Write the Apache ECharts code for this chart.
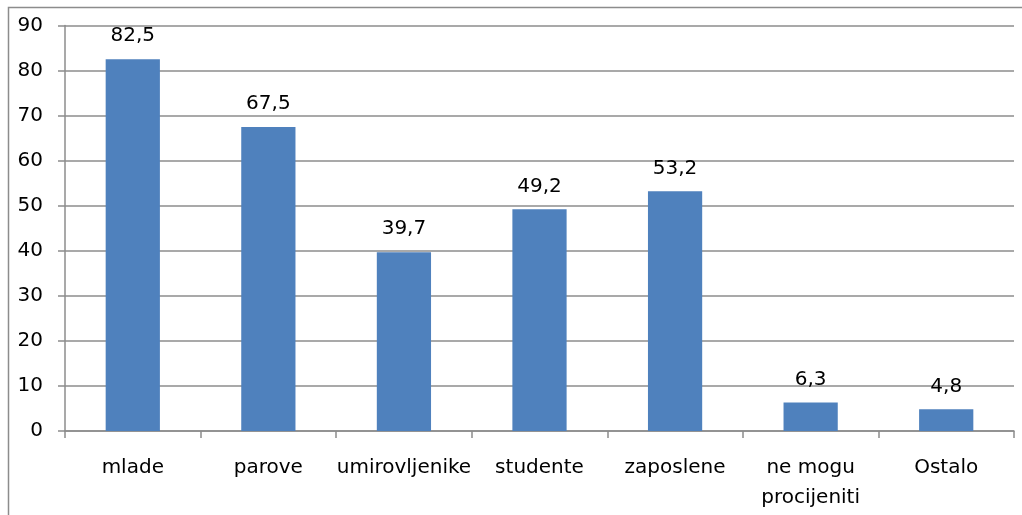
<!DOCTYPE html>
<html>
<head>
<meta charset="utf-8">
<script src="https://cdn.jsdelivr.net/npm/echarts@6/dist/echarts.min.js"></script>
<style>
  html, body { margin: 0; padding: 0; background: #fff; }
  #chart { width: 1022px; height: 515px; }
</style>
</head>
<body>
<div id="chart"></div>
<script>
let categories = ['mlade', 'parove', 'umirovljenike', 'studente', 'zaposlene', 'ne mogu\nprocijeniti', 'Ostalo'];
let values = [82.5, 67.5, 39.7, 49.2, 53.2, 6.3, 4.8];

let chart = echarts.init(document.getElementById('chart'));
let font = '"DejaVu Sans", sans-serif';

let option = {
    animation: false,
    graphic: [
        {
            type: 'rect',
            shape: { x: 8.5, y: 7.5, width: 1100, height: 600 },
            style: { fill: 'none', stroke: '#8c8c8c', lineWidth: 1.5 },
            silent: true
        }
    ],
    grid: { left: 65, right: 8, top: 25.5, bottom: 84, outerBoundsMode: 'none' },
    xAxis: {
        type: 'category',
        data: categories,
        axisLine: { lineStyle: { color: '#8c8c8c', width: 1.5 } },
        axisTick: { show: true, length: 7, lineStyle: { color: '#8c8c8c', width: 1.5 } },
        axisLabel: {
            color: '#000',
            fontSize: 20,
            fontFamily: font,
            margin: 22,
            lineHeight: 30,
            interval: 0
        }
    },
    yAxis: {
        type: 'value',
        min: 0,
        max: 90,
        interval: 10,
        axisLine: { show: true, lineStyle: { color: '#8c8c8c', width: 1.5 } },
        axisTick: { show: true, length: 7, lineStyle: { color: '#8c8c8c', width: 1.5 } },
        splitLine: { lineStyle: { color: '#8c8c8c', width: 1.5 } },
        axisLabel: {
            color: '#000',
            fontSize: 20,
            fontFamily: font,
            margin: 22
        }
    },
    series: [
        {
            type: 'bar',
            data: values,
            barWidth: '40%',
            itemStyle: { color: '#4f81bd' },
            label: {
                show: true,
                position: 'top',
                distance: 13,
                color: '#000',
                fontSize: 20,
                fontFamily: font,
                formatter: (p) => String(p.value).replace('.', ',')
            }
        }
    ]
};

chart.setOption(option);
</script>
</body>
</html>
